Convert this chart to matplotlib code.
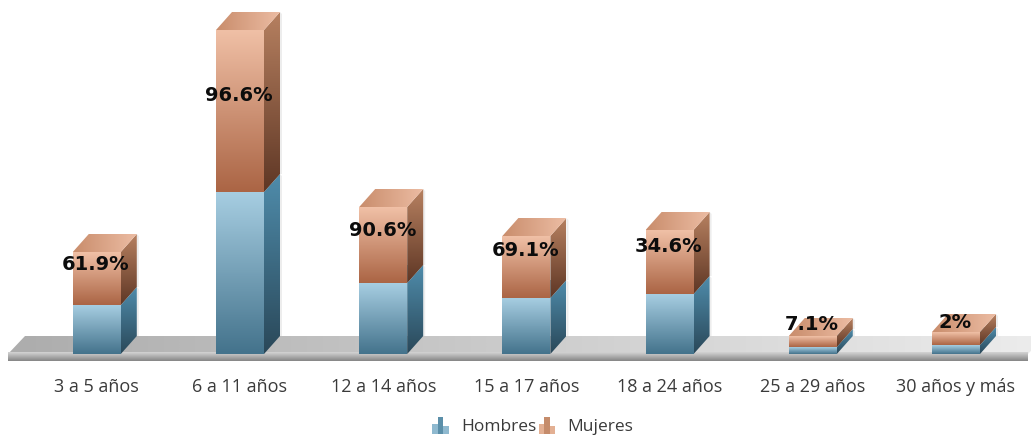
import numpy as np
import matplotlib
matplotlib.use("Agg")
import matplotlib.pyplot as plt
from matplotlib.colors import LinearSegmentedColormap as LSC
from matplotlib.patches import Polygon, Rectangle, Patch
from matplotlib.legend_handler import HandlerBase

categories = ["3 a 5 años", "6 a 11 años", "12 a 14 años", "15 a 17 años",
              "18 a 24 años", "25 a 29 años", "30 años y más"]
hombres = [49, 162, 71, 56, 60, 7, 9]
mujeres = [53, 162, 76, 62, 64, 11, 13]
etiquetas = ["61.9%", "96.6%", "90.6%", "69.1%", "34.6%", "7.1%", "2%"]

W, H = 1031, 439
PX = 143.2                 # pixels per category
X0 = 96.8                  # pixel of first category
BASE = 355                 # pixel of value zero
BOTTOM = 372               # pixel of axes bottom
BW = 48 / PX
DX, DY = 16 / PX, 18
LABEL_DY = [-11, -65, -23, -14, -16, 12, 11]
LABEL_DX = -1

fig = plt.figure(figsize=(W / 100, H / 100), dpi=100)
ax = fig.add_axes([0, 1 - BOTTOM / H, 1, BOTTOM / H])
xlim = (-X0 / PX, (W - X0) / PX)
ylim = (BASE - BOTTOM, BASE)


def grad(poly, c_from, c_to, vertical=True, z=2):
    """Fill polygon with a linear gradient (first colour at top/left)."""
    poly = np.array(poly, float)
    x0, x1, y0, y1 = poly[:, 0].min(), poly[:, 0].max(), poly[:, 1].min(), poly[:, 1].max()
    cmap = LSC.from_list("g", [c_from, c_to])
    data = np.linspace(0, 1, 64).reshape(-1, 1) if vertical else np.linspace(0, 1, 64).reshape(1, -1)
    im = ax.imshow(data, cmap=cmap, extent=(x0, x1, y0, y1), origin="upper",
                   aspect="auto", zorder=z, interpolation="bilinear")
    pat = Polygon(poly, closed=True, transform=ax.transData, fc="none", ec="none")
    ax.add_patch(pat)
    im.set_clip_path(pat)


# floor
y_strip = -7
fl = 17 / PX
xl, xr = xlim[0] + 8 / PX, xlim[0] + 1028 / PX
grad([(xl, 0), (xl + fl, DY), (xr + fl, DY), (xr, 0)], "#adadad", "#ececec", vertical=False, z=1)
grad([(xl, 2), (xr, 2), (xr, y_strip), (xl, y_strip)], "#d4d4d4", "#858585", z=1.1)

BLUE = dict(front=("#a6cde1", "#44738c"), side=("#4f8cab", "#2a4859"), top=("#8fb8cc", "#8fb8cc"))
ORANGE = dict(front=("#f0c0a6", "#ab6545"), side=("#b68060", "#5f3725"), top=("#c98d6c", "#ecbca3"))


def box(xc, y0, y1, st, z):
    l, r = xc - BW / 2, xc + BW / 2
    # faint shadow at the back right
    ax.add_patch(Polygon([(r + DX, y0 + DY), (r + DX + 2 / PX, y0 + DY), (r + DX + 2 / PX, y1 + DY - 2),
                          (r + DX, y1 + DY)], fc="#cccccc", ec="none", alpha=.35, zorder=z - .1))
    grad([(r, y0), (r + DX, y0 + DY), (r + DX, y1 + DY), (r, y1)], *st["side"], z=z)
    grad([(l, y1), (r, y1), (r + DX, y1 + DY), (l + DX, y1 + DY)], *st["top"], vertical=False, z=z)
    grad([(l, y0), (r, y0), (r, y1), (l, y1)], *st["front"], z=z + .1)


for i, (h, m) in enumerate(zip(hombres, mujeres)):
    box(i, 0, h, BLUE, 3 + i * .01)
    box(i, h, h + m, ORANGE, 3.2 + i * .01)
    ax.text(i + LABEL_DX / PX, h + m + LABEL_DY[i], etiquetas[i],
            ha="center", va="center", fontsize=14, fontweight="bold", color="#0c0c0c",
            family="DejaVu Sans", zorder=6)

ax.set_xlim(xlim)
ax.set_ylim(ylim)
ax.set_xticks(range(len(categories)), categories)
ax.tick_params(axis="x", length=0, pad=4, labelsize=13, labelcolor="#3a3a3a")
ax.set_yticks([])
for s in ax.spines.values():
    s.set_visible(False)
ax.patch.set_visible(False)
for t in ax.get_xticklabels():
    t.set_family("Open Sans")


class Icon(HandlerBase):
    def create_artists(self, legend, orig, xd, yd, width, height, fontsize, trans):
        out = []
        for k, hh in enumerate((.85, 1.4, .7)):
            out.append(Rectangle((k * 3.9 - xd, -yd - 3), 3.9, height * hh,
                                 fc=orig.get_edgecolor() if k == 1 else orig.get_facecolor(),
                                 ec="none", transform=trans))
        return out


handles = [Patch(fc="#8fb9cf", ec="#5b8fa9", label="Hombres"),
           Patch(fc="#e3b093", ec="#c58c6b", label="Mujeres")]
fig.legend(handles=handles, loc="center", bbox_to_anchor=(533 / W, 1 - 427 / H), ncol=2, frameon=False,
           handler_map={Patch: Icon()}, prop={"family": "Open Sans", "size": 12.5},
           labelcolor="#3a3a3a", handlelength=.95, handletextpad=.7, columnspacing=.15)

fig.savefig("out.png", dpi=100)
